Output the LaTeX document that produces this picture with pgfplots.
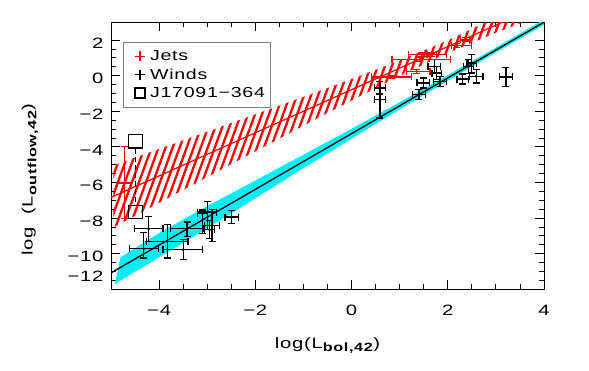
\documentclass[border=0pt]{standalone}
\usepackage{fontspec}
\setmainfont{Liberation Sans}[FakeStretch=1.35, LetterSpace=5]
\usepackage{pgfplots}
\usepackage{pgfplotstable}
\pgfplotsset{compat=1.18}
\usetikzlibrary{patterns.meta}
\definecolor{idlcyan}{RGB}{0,238,245}

\pgfplotstableread{
x y xp xm yp ym
-4.22 -8.60 0.30 0.29 0.70 0.71
-4.32 -9.72 0.30 0.29 0.90 0.52
-3.83 -9.31 0.43 0.44 0.94 0.93
-3.50 -9.78 0.41 0.42 0.57 0.56
-3.42 -8.60 0.35 0.35 0.38 0.43
-3.10 -7.75 0.10 0.10 0.20 1.10
-3.00 -7.66 0.20 0.20 0.60 1.00
-2.95 -8.65 0.10 0.10 0.50 0.50
-2.90 -8.40 0.15 0.15 0.90 0.90
-2.49 -7.94 0.14 0.14 0.36 0.36
0.59 -0.69 0.12 0.12 0.37 0.30
0.59 -1.35 0.12 0.12 0.30 1.03
1.40 -1.07 0.14 0.14 0.28 0.28
1.49 -0.41 0.13 0.13 0.28 0.28
1.72 0.52 0.13 0.13 0.37 0.37
1.77 0.15 0.10 0.10 0.37 0.37
1.84 -0.32 0.14 0.14 0.28 0.28
2.31 -0.19 0.12 0.12 0.28 0.28
2.43 0.52 0.10 0.10 0.40 0.40
2.50 0.71 0.10 0.10 0.47 0.56
2.59 -0.04 0.14 0.14 0.37 0.37
3.21 -0.07 0.14 0.14 0.55 0.55
}\winds

\pgfplotstableread{
x y xp xm yp ym
2.19 1.69 0.31 0.11 0.12 0.12
2.36 2.05 0.10 0.10 0.10 0.10
1.46 1.18 0.52 0.28 0.10 0.10
1.67 1.18 0.10 0.10 0.10 0.10
1.42 0.90 0.63 0.58 0.10 0.10
1.35 0.24 0.28 0.20 0.10 0.10
0.84 -0.07 0.41 0.42 0.10 0.10
-4.72 -6.03 0.15 0.15 2.06 2.00
}\jets

\pgfplotstableread{
x y
-4.95 -5.04
-4 -4.12
-3 -3.15
-2 -2.17
-1 -1.19
0 -0.19
1 0.85
2 1.98
3 3.27
3.6 4.10
3.6 3.04
3 2.41
2 1.28
1 -0.01
0 -1.39
-1 -2.81
-2 -4.25
-3 -5.69
-4 -7.14
-4.95 -8.52
}\redband

\pgfplotstableread{
x y
-4.8 -10.20
-4 -8.84
-3 -7.33
-2 -5.89
-1 -4.44
0 -2.98
1 -1.49
2 0.03
3 1.58
4 3.16
4 2.86
3 1.30
2 -0.29
1 -1.89
0 -3.54
-1 -5.20
-2 -6.89
-3 -8.57
-4 -10.20
-4.92 -11.70
}\cyanband

\begin{document}
\begin{tikzpicture}
\useasboundingbox (-111pt,-81.7pt) rectangle (478pt,289.3pt);
\begin{axis}[
  scale only axis, width=433pt, height=267pt,
  at={(0pt,0pt)}, anchor=south west,
  xmin=-5, xmax=4, ymin=-12, ymax=3,
  xtick={-4,-2,0,2,4}, xticklabels={−4,−2,0,2,4},
  ytick={-12,-10,-8,-6,-4,-2,0,2},
  yticklabels={\raisebox{15.6pt}[\height][\depth]{−12},−10,−8,−6,−4,−2,0,2},
  minor x tick num=3, minor y tick num=3,
  tick align=inside, major tick length=9pt, minor tick length=5pt,
  tick style={black, line width=0.8pt},
  axis line style={line width=0.8pt},
  ticklabel style={font=\fontsize{15}{15}\selectfont},
  xticklabel style={anchor=center, yshift=-21.4pt},
  yticklabel style={anchor=east, xshift=-4pt, yshift=-3pt},
  xlabel={log(L\textsubscript{\fontsize{12}{12}\selectfont\bfseries bol,42})},
  ylabel={log\ \ (L\textsubscript{\fontsize{12}{12}\selectfont\bfseries outflow,42})},
  every axis x label/.style={at={(axis description cs:0.5,-0.21)}, anchor=center, font=\fontsize{15}{15}\selectfont},
  every axis y label/.style={at={(axis description cs:-0.187,0.41)}, anchor=center, rotate=90, font=\fontsize{15}{15}\selectfont},
  legend style={at={(axis description cs:0.027,0.927)}, anchor=north west,
    draw=gray, line width=0.8pt, font=\fontsize{14.5}{16}\selectfont,
    inner xsep=3pt, inner ysep=6.5pt, row sep=2.5pt},
  legend cell align=left,
  legend image code/.code={\path[draw=none] (0pt,0pt) -- (22pt,0pt); \draw[#1] plot coordinates {(14pt,0pt)};},
  clip=true,
]
% cyan confidence band
\addplot[fill=idlcyan, draw=none, forget plot] table {\cyanband} -- cycle;
% red hatched band
\addplot[draw=none, pattern={Lines[angle=70, distance=6.6pt, line width=2.3pt]}, pattern color=red, forget plot] table {\redband} -- cycle;
% fits
\addplot[black, line width=1.3pt, forget plot] coordinates {(-5,-11.08) (4,3.005)};
\addplot[red, line width=1.2pt, forget plot] coordinates {(-5,-6.84) (3.6,3.57)};
% J17091
\addplot[black, line width=1.2pt, dash pattern=on 5pt off 3pt, forget plot] coordinates {(-4.49,-4.10) (-4.49,-7.25)};
\addplot[only marks, black, mark=square, mark size=6.7pt, line width=1.2pt, forget plot] coordinates {(-4.49,-3.69) (-4.49,-7.66)};
% winds
\addplot[only marks, black, mark=*, mark size=1.2pt, forget plot,
  error bars/.cd, x dir=both, x explicit, y dir=both, y explicit,
  error bar style={line width=1.2pt, black},
  error mark options={rotate=90, mark size=3.5pt, line width=1.2pt, black}]
  table[x=x, y=y, x error plus=xp, x error minus=xm, y error plus=yp, y error minus=ym] {\winds};
% jets
\addplot[only marks, red, mark=*, mark size=1.2pt, forget plot,
  error bars/.cd, x dir=both, x explicit, y dir=both, y explicit,
  error bar style={line width=1.2pt, red},
  error mark options={rotate=90, mark size=3.5pt, line width=1.2pt, red}]
  table[x=x, y=y, x error plus=xp, x error minus=xm, y error plus=yp, y error minus=ym] {\jets};
% legend
\addlegendimage{only marks, mark=+, red, mark size=5pt, line width=1.6pt}
\addlegendentry{Jets}
\addlegendimage{only marks, mark=+, black, mark size=5pt, line width=1.6pt}
\addlegendentry{Winds}
\addlegendimage{only marks, mark=square, black, mark size=5pt, line width=1.3pt}
\addlegendentry{J17091−364}
\end{axis}
\end{tikzpicture}
\end{document}
